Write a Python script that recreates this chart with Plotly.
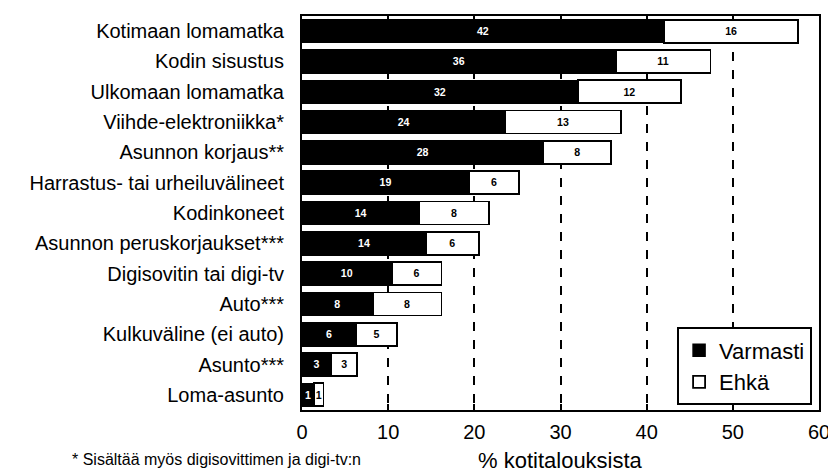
import plotly.graph_objects as go

categories = [
    "Kotimaan lomamatka", "Kodin sisustus", "Ulkomaan lomamatka",
    "Viihde-elektroniikka*", "Asunnon korjaus**", "Harrastus- tai urheiluvälineet",
    "Kodinkoneet", "Asunnon peruskorjaukset***", "Digisovitin tai digi-tv",
    "Auto***", "Kulkuväline (ei auto)", "Asunto***", "Loma-asunto",
]
varmasti = [42.0, 36.4, 32.0, 23.6, 28.0, 19.4, 13.6, 14.4, 10.4, 8.2, 6.3, 3.4, 1.4]
ehka = [15.6, 11.0, 12.0, 13.4, 7.9, 5.8, 8.1, 6.1, 5.8, 8.0, 4.7, 3.0, 1.1]
varmasti_labels = ["42", "36", "32", "24", "28", "19", "14", "14", "10", "8", "6", "3", "1"]
ehka_labels = ["16", "11", "12", "13", "8", "6", "8", "6", "6", "8", "5", "3", "1"]
x_ticks = [0, 10, 20, 30, 40, 50, 60]

FONT = "Liberation Sans, Arial, sans-serif"

fig = go.Figure()
fig.add_trace(go.Bar(
    y=categories, x=varmasti, orientation="h", name="Varmasti",
    marker=dict(color="black", line=dict(color="black", width=1.5)),
    text=varmasti_labels, textposition="inside", insidetextanchor="middle",
    textfont=dict(color="white", size=14, family=FONT, weight="bold"), textangle=0,
    width=0.76,
))
fig.add_trace(go.Bar(
    y=categories, x=ehka, orientation="h", name="Ehkä",
    marker=dict(color="white", line=dict(color="black", width=1.8)),
    text=ehka_labels, textposition="inside", insidetextanchor="middle",
    textfont=dict(color="black", size=14, family=FONT, weight="bold"), textangle=0,
    width=0.76,
))

fig.update_layout(
    barmode="stack",
    width=828, height=465,
    margin=dict(l=294, r=13, t=6, b=63),
    paper_bgcolor="white", plot_bgcolor="white",
    font=dict(family=FONT, color="black", size=18),
    uniformtext=dict(minsize=8, mode="show"),
    showlegend=True,
    legend=dict(
        x=0.7255, y=0.2096, xanchor="left", yanchor="top",
        bordercolor="black", borderwidth=2, bgcolor="white",
        font=dict(size=22, family=FONT, color="black"),
        traceorder="normal", itemwidth=30, tracegroupgap=0,
    ),
    xaxis=dict(
        range=[0, 60], tickvals=x_ticks, ticktext=[str(t) for t in x_ticks],
        showgrid=True, gridcolor="black", griddash="dash", gridwidth=1.5,
        zeroline=False, showline=True, linecolor="black", linewidth=2,
        mirror=True, ticks="inside", ticklen=6, tickcolor="black", tickwidth=1.5,
        tickfont=dict(size=20, family=FONT, color="black"),
        ticklabelstandoff=3,
    ),
    yaxis=dict(
        autorange="reversed", showgrid=False, showline=True, linecolor="black",
        linewidth=2, mirror=True, ticks="", ticklabelstandoff=12,
        tickfont=dict(size=20, family=FONT, color="black"),
    ),
    annotations=[
        dict(text="% kotitalouksista", x=0.5, y=-0.129, xref="paper", yref="paper",
             xanchor="center", yanchor="middle", showarrow=False,
             font=dict(size=22, family=FONT, color="black")),
        dict(text="* Sisältää myös digisovittimen ja digi-tv:n", x=-0.449, y=-0.1,
             xref="paper", yref="paper", xanchor="left", yanchor="top",
             showarrow=False, font=dict(size=16, family=FONT, color="black")),
    ],
)

fig.write_html("out.html")
